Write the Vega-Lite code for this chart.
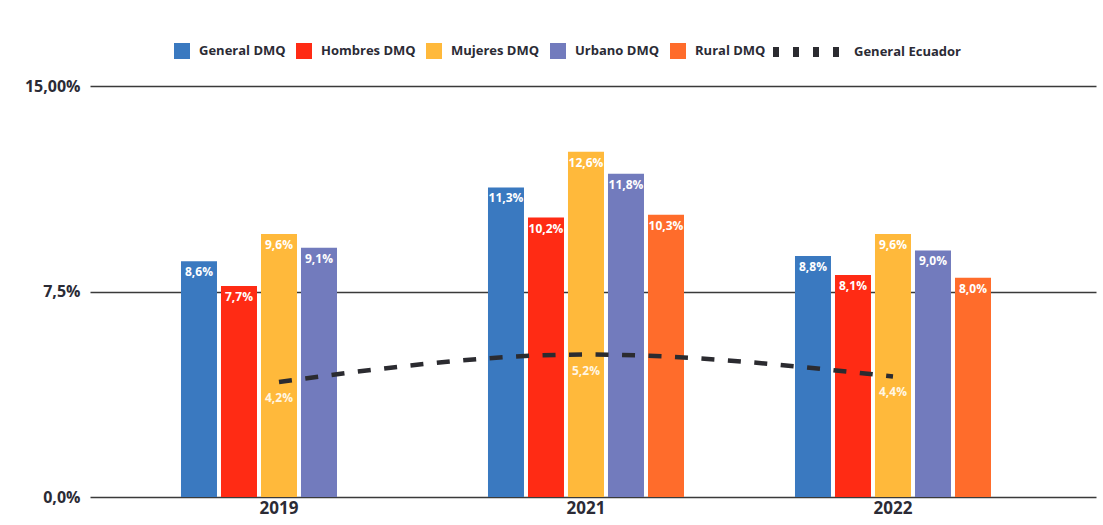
{
  "$schema": "https://vega.github.io/schema/vega-lite/v6.json",
  "width": 1006,
  "height": 411,
  "autosize": {"type": "none"},
  "padding": {"left": 90, "top": 86, "right": 7, "bottom": 28},
  "background": "white",
  "config": {
    "locale": {"number": {"decimal": ",", "thousands": ".", "grouping": [3], "currency": ["$", ""]}},
    "view": {"stroke": null},
    "font": "Open Sans"
  },
  "datasets": {
    "bars": [
      {"anio": "2019", "grupo": "General DMQ", "valor": 0.086},
      {"anio": "2019", "grupo": "Hombres DMQ", "valor": 0.077},
      {"anio": "2019", "grupo": "Mujeres DMQ", "valor": 0.096},
      {"anio": "2019", "grupo": "Urbano DMQ", "valor": 0.091},
      {"anio": "2021", "grupo": "General DMQ", "valor": 0.113},
      {"anio": "2021", "grupo": "Hombres DMQ", "valor": 0.102},
      {"anio": "2021", "grupo": "Mujeres DMQ", "valor": 0.126},
      {"anio": "2021", "grupo": "Urbano DMQ", "valor": 0.118},
      {"anio": "2021", "grupo": "Rural DMQ", "valor": 0.103},
      {"anio": "2022", "grupo": "General DMQ", "valor": 0.088},
      {"anio": "2022", "grupo": "Hombres DMQ", "valor": 0.081},
      {"anio": "2022", "grupo": "Mujeres DMQ", "valor": 0.096},
      {"anio": "2022", "grupo": "Urbano DMQ", "valor": 0.090},
      {"anio": "2022", "grupo": "Rural DMQ", "valor": 0.080}
    ],
    "linea": [
      {"anio": "2019", "serie": "General Ecuador", "valor": 0.042},
      {"anio": "2021", "serie": "General Ecuador", "valor": 0.052},
      {"anio": "2022", "serie": "General Ecuador", "valor": 0.044}
    ]
  },
  "layer": [
    {
      "data": {"name": "bars"},
      "mark": {"type": "bar"},
      "encoding": {
        "x": {
          "field": "anio", "type": "nominal",
          "scale": {"paddingInner": 0.3485, "paddingOuter": 0.3127, "align": 0.4635},
          "axis": {"title": null, "domain": false, "ticks": false, "labelAngle": 0, "labelFont": "Open Sans", "labelFontSize": 17, "labelFontWeight": "bold", "labelColor": "#2b2b35", "labelPadding": 3}
        },
        "xOffset": {
          "field": "grupo", "type": "nominal",
          "scale": {"domain": ["General DMQ", "Hombres DMQ", "Mujeres DMQ", "Urbano DMQ", "Rural DMQ"], "paddingInner": 0.1, "paddingOuter": 0.05}
        },
        "y": {
          "field": "valor", "type": "quantitative",
          "scale": {"domain": [0, 0.15], "nice": false},
          "axis": {
            "title": null, "values": [0, 0.075, 0.15], "domain": false, "ticks": false,
            "grid": true, "gridColor": "#3a3a3a", "gridWidth": 1.5,
            "labelExpr": "datum.value >= 0.149 ? '15,00%' : (datum.value > 0.07 ? '7,5%' : '0,0%')",
            "labelFont": "Open Sans", "labelFontSize": 16, "labelFontWeight": "bold", "labelColor": "#2b2b35", "labelPadding": 10
          }
        },
        "color": {
          "field": "grupo", "type": "nominal",
          "scale": {
            "domain": ["General DMQ", "Hombres DMQ", "Mujeres DMQ", "Urbano DMQ", "Rural DMQ"],
            "range": ["#3a79c0", "#ff2b14", "#ffb93b", "#727bbd", "#ff6c2b"]
          },
          "legend": {
            "orient": "none", "legendX": 84, "legendY": -43, "direction": "horizontal", "title": null,
            "symbolType": "square", "symbolSize": 256, "symbolStrokeWidth": 0, "symbolOpacity": 1,
            "labelFont": "Open Sans", "labelFontSize": 13, "labelFontWeight": "bold", "labelColor": "#2b2b35",
            "labelOffset": 9, "columnPadding": 10, "padding": 0
          }
        }
      }
    },
    {
      "data": {"name": "bars"},
      "mark": {"type": "text", "baseline": "middle", "dy": 11, "fontSize": 12, "fontWeight": "bold", "color": "white", "font": "Open Sans"},
      "encoding": {
        "x": {"field": "anio", "type": "nominal"},
        "xOffset": {"field": "grupo", "type": "nominal"},
        "y": {"field": "valor", "type": "quantitative", "scale": {"domain": [0, 0.15], "nice": false}},
        "text": {"field": "valor", "type": "quantitative", "format": ".1%"}
      }
    },
    {
      "data": {"name": "linea"},
      "mark": {"type": "line", "interpolate": "monotone", "strokeWidth": 4.5, "strokeDash": [13, 13.5]},
      "encoding": {
        "x": {"field": "anio", "type": "nominal"},
        "y": {"field": "valor", "type": "quantitative", "scale": {"domain": [0, 0.15], "nice": false}},
        "stroke": {
          "field": "serie", "type": "nominal",
          "scale": {"domain": ["General Ecuador"], "range": ["#2b2b30"]},
          "legend": {
            "orient": "none", "legendX": 678, "legendY": -72, "title": null,
            "symbolType": "stroke", "symbolSize": 4356, "symbolStrokeWidth": 10, "symbolDash": [6, 14],
            "labelFont": "Open Sans", "labelFontSize": 13, "labelFontWeight": "bold", "labelColor": "#2b2b35",
            "labelOffset": 10, "padding": 0,
            "encode": {"symbols": {"update": {"strokeDash": {"value": [6, 14]}, "strokeWidth": {"value": 10}, "stroke": {"value": "#2b2b30"}}}}
          }
        }
      }
    },
    {
      "data": {"name": "linea"},
      "mark": {"type": "text", "baseline": "middle", "dy": 16, "fontSize": 12, "fontWeight": "bold", "color": "#fff6e4", "font": "Open Sans"},
      "encoding": {
        "x": {"field": "anio", "type": "nominal"},
        "y": {"field": "valor", "type": "quantitative", "scale": {"domain": [0, 0.15], "nice": false}},
        "text": {"field": "valor", "type": "quantitative", "format": ".1%"}
      }
    }
  ]
}
